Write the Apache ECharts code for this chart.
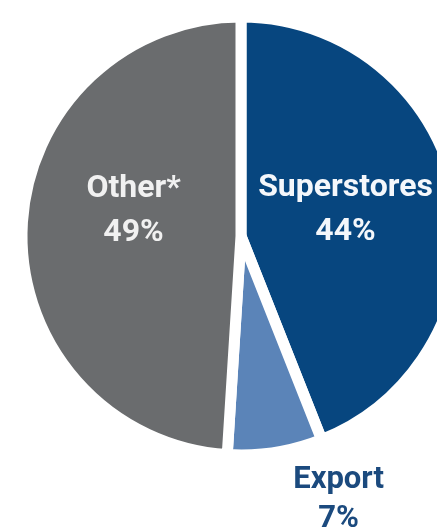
<!DOCTYPE html>
<html>
<head>
<meta charset="utf-8">
<script src="https://cdn.jsdelivr.net/npm/echarts@6/dist/echarts.min.js"></script>
<style>
  html, body { margin: 0; padding: 0; background: #ffffff; }
  #chart { width: 437px; height: 530px; }
</style>
</head>
<body>
<div id="chart"></div>
<script>
// Sales split by channel
const categories = ['Superstores', 'Export', 'Other*'];
const shares = [44, 7, 49];
const sliceColors = ['#07467f', '#5b84b8', '#6a6c6e'];

const labelFont = "Roboto, 'DejaVu Sans', sans-serif";

// per-slice label placement and styling
const labelStyles = [
  { offset: [-6, -5], color: '#f4f7fb', fontSize: 32, lineHeight: 44 },
  { offset: [80, 153], color: '#1b4a7e', fontSize: 31, lineHeight: 39 },
  { offset: [5, -21], color: '#f1f1f1', fontSize: 32, lineHeight: 44 }
];

const data = categories.map((name, i) => ({
  name: name,
  value: shares[i],
  itemStyle: { color: sliceColors[i] },
  label: Object.assign({}, labelStyles[i])
}));

const chart = echarts.init(document.getElementById('chart'), null, { renderer: 'canvas' });
chart.setOption({
  animation: false,
  backgroundColor: '#ffffff',
  series: [{
    type: 'pie',
    center: [241, 236],
    radius: [0, 219],
    startAngle: 90,
    clockwise: true,
    avoidLabelOverlap: false,
    itemStyle: { borderColor: '#ffffff', borderWidth: 11 },
    label: {
      show: true,
      position: 'inside',
      fontFamily: labelFont,
      fontWeight: 'bold',
      align: 'center',
      verticalAlign: 'middle',
      formatter: p => p.name + '\n' + p.value + '%'
    },
    labelLine: { show: false },
    emphasis: { disabled: true },
    data: data
  }]
});
</script>
</body>
</html>
